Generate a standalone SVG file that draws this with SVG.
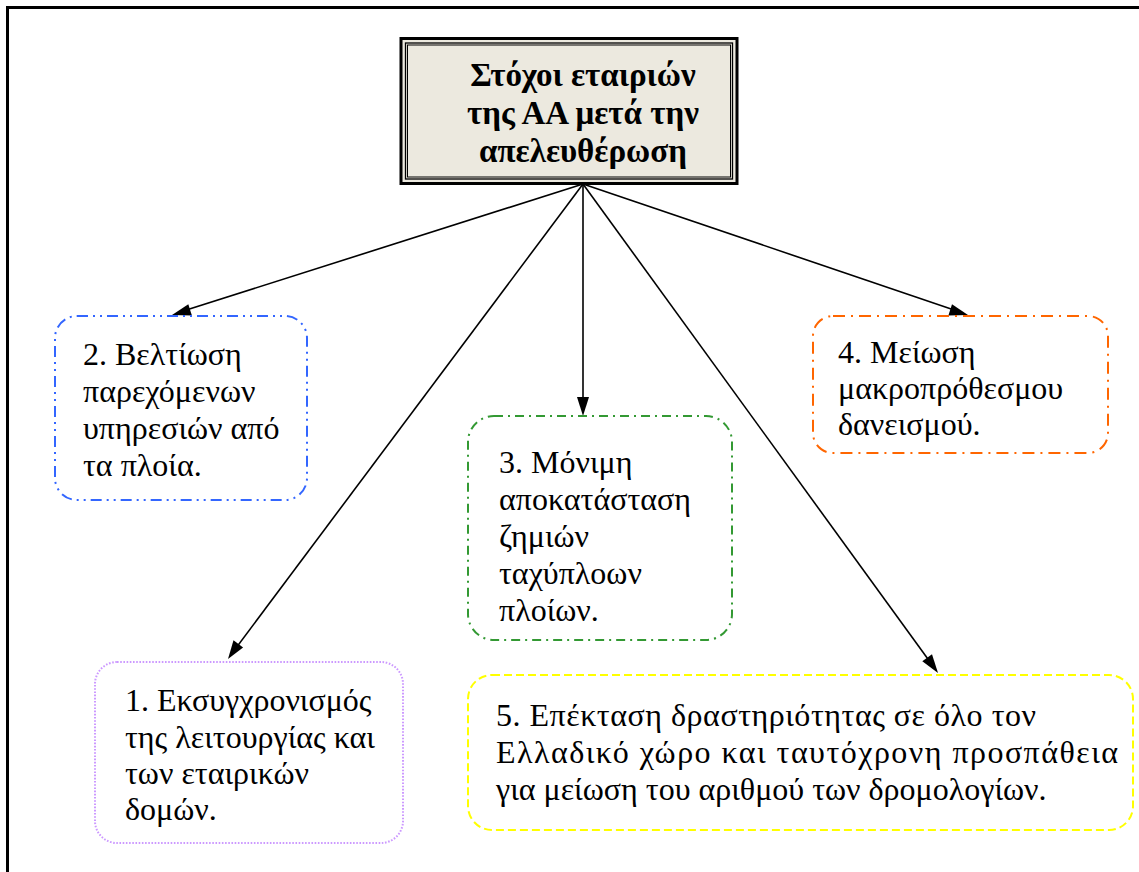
<svg xmlns="http://www.w3.org/2000/svg" width="1139" height="872" viewBox="0 0 1139 872">
<style>
.t{font-family:"Liberation Serif","Times New Roman",serif;font-size:32px;fill:#000}
.h{font-family:"Liberation Serif","Times New Roman",serif;font-size:33px;font-weight:bold;fill:#000;text-anchor:middle}
.b{fill:#fff;stroke-width:2}
</style>
<rect width="1139" height="872" fill="#fff"/>
<g id="frame">
<path d="M7.5,872 V7.5 H1139" fill="none" stroke="#000" stroke-width="3"/>
</g>
<g id="connectors" stroke="#000" stroke-width="1.6">
<line x1="583" y1="184" x2="180" y2="312"/>
<line x1="583" y1="184" x2="233" y2="652"/>
<line x1="583" y1="184" x2="583" y2="406"/>
<line x1="583" y1="184" x2="933" y2="666"/>
<line x1="583" y1="184" x2="960" y2="312"/>
<path d="M172,315 L188.3,304.2 L191.9,315.6 z" fill="#000" stroke="none"/>
<path d="M228,659 L233.5,640.2 L243.1,647.4 z" fill="#000" stroke="none"/>
<path d="M583,416 L577,397 L589,397 z" fill="#000" stroke="none"/>
<path d="M938,673 L922.3,661.2 L932,654.2 z" fill="#000" stroke="none"/>
<path d="M968,315 L948.4,315.6 L952,304.2 z" fill="#000" stroke="none"/>
</g>
<g id="title">
<rect x="401" y="38.5" width="336" height="145" fill="#ECE9DF" stroke="#000" stroke-width="3"/>
<rect x="405.5" y="43" width="327" height="136" fill="none" stroke="#000" stroke-width="1.3"/>
<rect x="407.5" y="45" width="323" height="132" fill="none" stroke="#000" stroke-width="1"/>
<text class="h" x="583" y="86">Στόχοι εταιριών</text>
<text class="h" x="583" y="124">της ΑΑ μετά την</text>
<text class="h" x="583" y="162">απελευθέρωση</text>
</g>
<g id="n2">
<rect class="b" x="55" y="316" width="252" height="184" rx="22" stroke="#3366FF" stroke-dasharray="11 5 2 5 2 5"/>
<text class="t" x="83" y="365">2. Βελτίωση</text>
<text class="t" x="83" y="402">παρεχόμενων</text>
<text class="t" x="83" y="439">υπηρεσιών από</text>
<text class="t" x="83" y="476">τα πλοία.</text>
</g>
<g id="n3">
<rect class="b" x="468" y="416" width="264" height="224" rx="26" stroke="#339933" stroke-dasharray="9 5 2 5"/>
<text class="t" x="499" y="473">3. Μόνιμη</text>
<text class="t" x="499" y="510">αποκατάσταση</text>
<text class="t" x="499" y="547">ζημιών</text>
<text class="t" x="499" y="584">ταχύπλοων</text>
<text class="t" x="499" y="621">πλοίων.</text>
</g>
<g id="n4">
<rect class="b" x="813" y="316" width="295" height="137" rx="20" stroke="#FF6600" stroke-dasharray="12 6 2 6"/>
<text class="t" x="838" y="363">4. Μείωση</text>
<text class="t" x="838" y="399">μακροπρόθεσμου</text>
<text class="t" x="838" y="435">δανεισμού.</text>
</g>
<g id="n1">
<rect class="b" x="95" y="662" width="308" height="181" rx="22" stroke="#CC99FF" stroke-width="1.6" stroke-dasharray="1.6 1.6"/>
<text class="t" x="125" y="711">1. Εκσυγχρονισμός</text>
<text class="t" x="125" y="748">της λειτουργίας και</text>
<text class="t" x="125" y="784">των εταιρικών</text>
<text class="t" x="125" y="820">δομών.</text>
</g>
<g id="n5">
<rect class="b" x="468" y="675" width="665" height="155" rx="24" stroke="#FFFF00" stroke-dasharray="8 4"/>
<text class="t" x="496" y="726" textLength="540" lengthAdjust="spacing">5. Επέκταση δραστηριότητας σε όλο τον</text>
<text class="t" x="496" y="763" textLength="622" lengthAdjust="spacing">Ελλαδικό χώρο και ταυτόχρονη προσπάθεια</text>
<text class="t" x="496" y="800">για μείωση του αριθμού των δρομολογίων.</text>
</g>
</svg>
